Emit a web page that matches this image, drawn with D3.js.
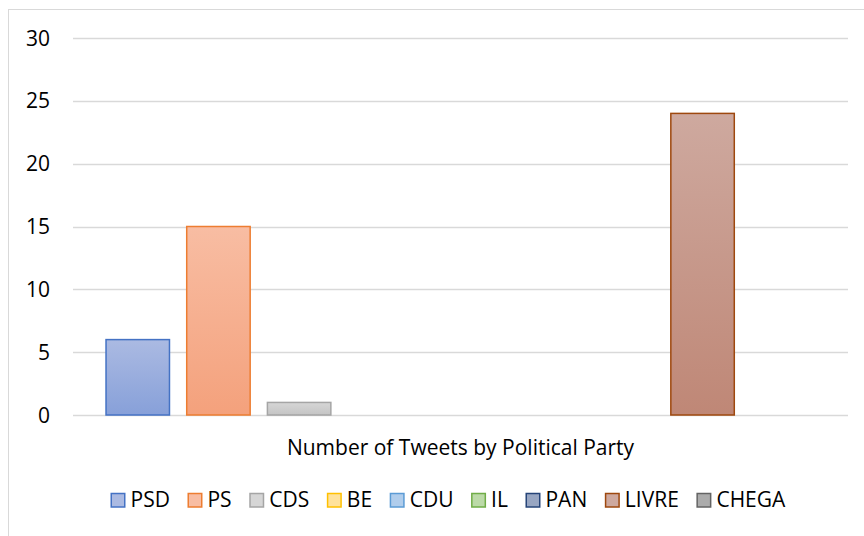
<!DOCTYPE html>
<html><head><meta charset="utf-8">
<script src="https://cdn.jsdelivr.net/npm/d3@7"></script>
<style>body{margin:0;background:#fff}text{font-family:"Open Sans",Calibri,sans-serif;fill:#000}</style>
</head><body>
<svg id="c" width="864" height="536"></svg>
<script>
const parties = ["PSD","PS","CDS","BE","CDU","IL","PAN","LIVRE","CHEGA"];
const tweets = [6,15,1,0,0,0,0,24,0];
const yTicks = [0,5,10,15,20,25,30];
const category = "Number of Tweets by Political Party";
const strokes = ["#4472c4","#ed7d31","#a5a5a5","#ffc000","#5b9bd5","#70ad47","#264478","#9e480e","#636363"];
const topFill = ["#abbae2","#f8bda3","#d6d6d6","#ffe29c","#b0cdec","#bcdaa8","#98a6c2","#cea99f","#ababab"];
const botFill = ["#87a0d9","#f4a17c","#c4c4c4","#ffd26a","#95bbe4","#a4cc8b","#7a8bae","#bf8776","#9a9a9a"];

const svg = d3.select("#c");
svg.append("rect").attr("x",8.5).attr("y",9.5).attr("width",900).attr("height",600)
  .attr("fill","#fff").attr("stroke","#d9d9d9");

const L=73,R=848,T=38,B=415;
const FS=21;
const y = d3.scaleLinear().domain([0,30]).range([B,T]);
const x = d3.scaleBand().domain(parties).range([L,R]).paddingInner(0.195).paddingOuter(0.4);

const defs = svg.append("defs");
parties.forEach((p,i)=>{
  const g = defs.append("linearGradient").attr("id","g"+i).attr("x1",0).attr("y1",0).attr("x2",0).attr("y2",1);
  g.append("stop").attr("offset","0%").attr("stop-color",topFill[i]);
  g.append("stop").attr("offset","100%").attr("stop-color",botFill[i]);
});

svg.append("g").selectAll("line").data(yTicks).join("line")
  .attr("x1",L).attr("x2",R).attr("y1",d=>Math.round(y(d))+0.5).attr("y2",d=>Math.round(y(d))+0.5)
  .attr("stroke","#d9d9d9").attr("stroke-width",1.5);

svg.append("g").selectAll("text").data(yTicks).join("text")
  .attr("x",50).attr("y",d=>y(d)).attr("dy","0.36em").attr("text-anchor","end")
  .attr("font-size",FS).text(d=>d);

svg.append("g").selectAll("rect").data(parties.filter((p,i)=>tweets[i]>0)).join("rect")
  .attr("x",d=>x(d)+0.75).attr("width",x.bandwidth()-1.5)
  .attr("y",d=>y(tweets[parties.indexOf(d)]))
  .attr("height",d=>B-y(tweets[parties.indexOf(d)]))
  .attr("fill",d=>"url(#g"+parties.indexOf(d)+")")
  .attr("stroke",d=>strokes[parties.indexOf(d)]).attr("stroke-width",1.5);

svg.append("text").attr("x",(L+R)/2).attr("y",455).attr("text-anchor","middle")
  .attr("font-size",FS).text(category);

// legend
const lg = svg.append("g");
const items=[];
parties.forEach((p,i)=>{
  const g = lg.append("g");
  g.append("rect").attr("x",0.75).attr("y",-13.5).attr("width",13.5).attr("height",13.5)
    .attr("fill",topFill[i]).attr("stroke",strokes[i]).attr("stroke-width",1.5);
  const t = g.append("text").attr("x",20).attr("y",0).attr("font-size",FS).text(p);
  items.push({g,w:20+t.node().getComputedTextLength()});
});
const gap=17.6;
let cx = 110.5;
items.forEach(it=>{it.g.attr("transform",`translate(${cx},507)`);cx+=it.w+gap;});
</script>
</body></html>
